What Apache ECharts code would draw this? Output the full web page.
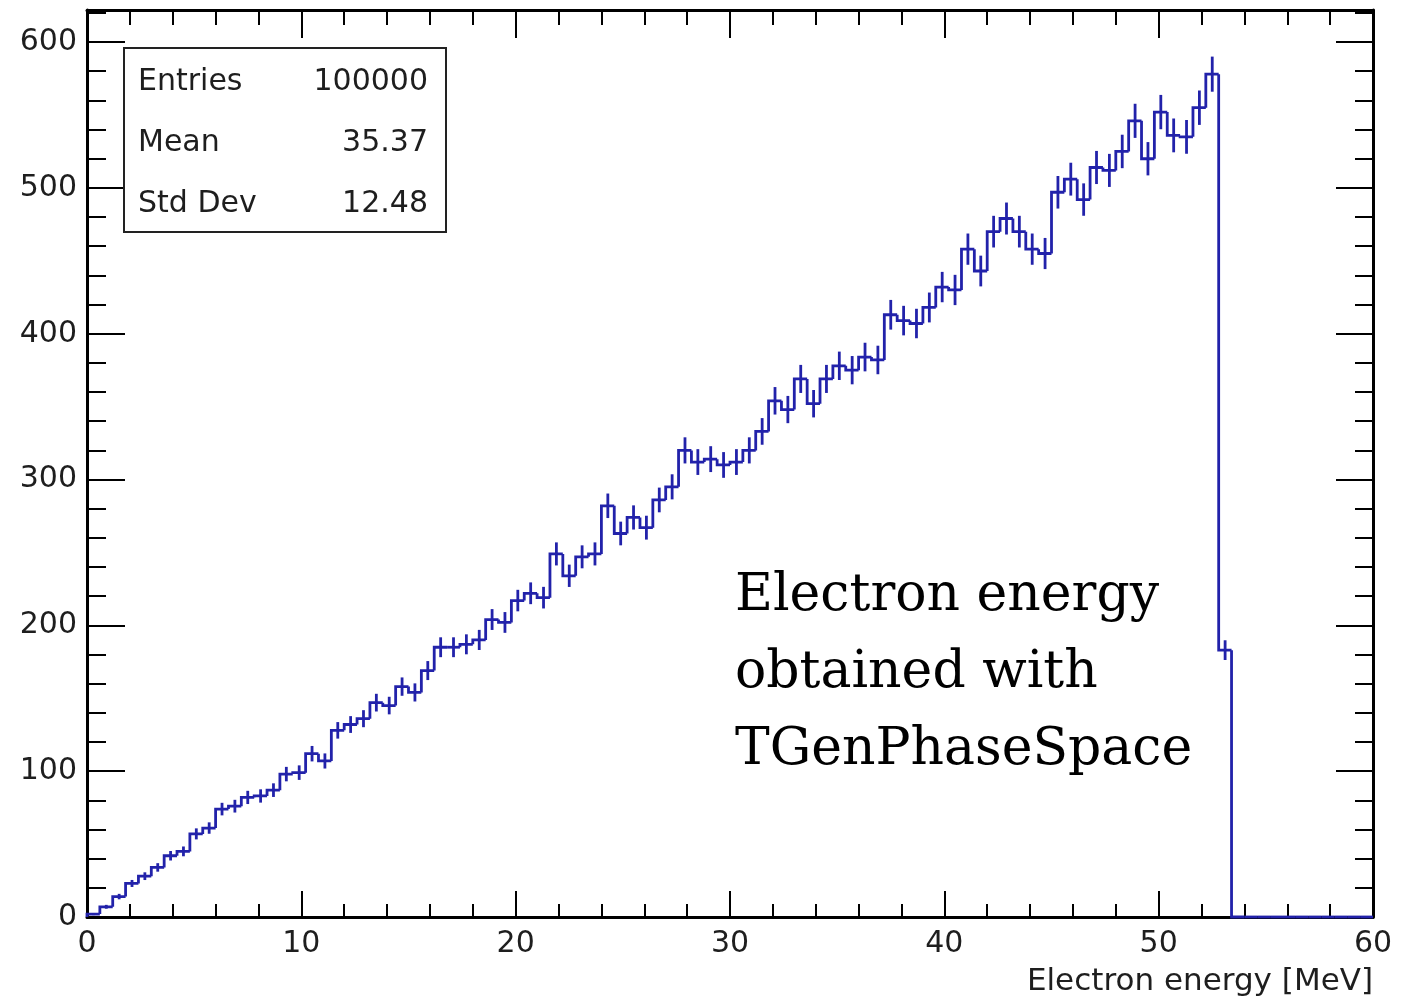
<!DOCTYPE html>
<html>
<head>
<meta charset="utf-8">
<title>Electron energy</title>
<script src="https://cdn.jsdelivr.net/npm/echarts@6/dist/echarts.min.js"></script>
<style>
  html, body { margin: 0; padding: 0; background: #ffffff; }
  #chart { width: 1407px; height: 1002px; }
</style>
</head>
<body>
<div id="chart"></div>
<script>
// Histogram binning: 100 bins of 0.6 MeV between 0 and 60 MeV
const xMin = 0;
const xMax = 60;
const nBins = 100;

// Bin contents (weighted counts)
const counts = [
  2, 7, 14, 23, 28, 34, 42, 45, 57, 61,
  74, 76, 82, 83, 87, 98, 99, 112, 107, 128,
  132, 136, 147, 145, 158, 154, 169, 185, 185, 187,
  190, 204, 202, 217, 222, 219, 249, 234, 247, 249,
  282, 263, 274, 267, 286, 295, 320, 312, 314, 310,
  312, 320, 333, 354, 348, 369, 352, 369, 378, 375,
  384, 382, 413, 409, 407, 418, 432, 430, 458, 443,
  470, 479, 470, 458, 455, 497, 506, 492, 514, 512,
  525, 546, 520, 552, 536, 535, 555, 578, 183, 0,
  0, 0, 0, 0, 0, 0, 0, 0, 0, 0
];

// Statistics box
const statNames = ['Entries', 'Mean', 'Std Dev'];
const statValues = ['100000', '35.37', '12.48'];
const entries = 100000;

// Axis tick labels
const xTickLabels = [0, 10, 20, 30, 40, 50, 60];
const yTickLabels = [0, 100, 200, 300, 400, 500, 600];
const yMax = 622;

const xTitle = 'Electron energy [MeV]';
const noteLines = ['Electron energy', 'obtained with', 'TGenPhaseSpace'];

// Each event carries the same weight, so the bin error is sqrt(w * content)
const binWidth = (xMax - xMin) / nBins;
const total = counts.reduce((s, c) => s + c, 0);
const weight = total / entries;
const bins = counts.map((c, i) => [
  xMin + i * binWidth,
  xMin + (i + 1) * binWidth,
  c,
  i > 0 ? counts[i - 1] : 0,
  c > 0 ? Math.sqrt(weight * c) : 0
]);

const lineColor = '#2222aa';
const fontSans = 'DejaVu Sans';
const labelColor = '#1e1e1e';

function tick(len) {
  return { show: true, inside: true, length: len, lineStyle: { color: '#000', width: 2 } };
}
function majorAxis(pos, extra) {
  return Object.assign({
    type: 'value',
    position: pos,
    splitLine: { show: false },
    axisLine: { show: true, onZero: false, lineStyle: { color: '#000', width: 3 } },
    axisLabel: { show: false },
    minorTick: { show: false }
  }, extra);
}
function minorAxis(pos, extra) {
  return Object.assign({
    type: 'value',
    position: pos,
    splitLine: { show: false },
    axisLine: { show: false, onZero: false },
    axisLabel: { show: false }
  }, extra);
}

const xLabelStyle = {
  show: true, margin: 12, fontSize: 30, fontFamily: fontSans, color: labelColor,
  formatter: v => (xTickLabels.indexOf(v) >= 0 ? String(v) : '')
};
const yLabelStyle = {
  show: true, margin: 10, fontSize: 30, fontFamily: fontSans, color: labelColor,
  formatter: v => (yTickLabels.indexOf(v) >= 0 ? String(v) : '')
};

const graphics = [
  {
    type: 'rect', z: 100,
    shape: { x: 124, y: 48, width: 322, height: 184 },
    style: { fill: '#ffffff', stroke: '#222222', lineWidth: 2 }
  }
];
const statRowsY = [82, 143, 204];
statNames.forEach((name, i) => {
  graphics.push({
    type: 'text', z: 101, x: 138, y: statRowsY[i],
    style: { text: name, font: '30px "DejaVu Sans"', fill: labelColor, align: 'left', verticalAlign: 'middle' }
  });
  graphics.push({
    type: 'text', z: 101, x: 428, y: statRowsY[i],
    style: { text: statValues[i], font: '30px "DejaVu Sans"', fill: labelColor, align: 'right', verticalAlign: 'middle' }
  });
});
graphics.push({
  type: 'text', z: 101, x: 1373, y: 982,
  style: { text: xTitle, font: '31px "DejaVu Sans"', fill: labelColor, align: 'right', verticalAlign: 'middle' }
});
const noteY = [596, 673, 750];
noteLines.forEach((line, i) => {
  graphics.push({
    type: 'text', z: 101, x: 735, y: noteY[i],
    style: { text: line, font: '52px "DejaVu Serif"', fill: '#000000', align: 'left', verticalAlign: 'middle' }
  });
});

const chart = echarts.init(document.getElementById('chart'), null, { renderer: 'canvas' });
chart.setOption({
  animation: false,
  backgroundColor: '#ffffff',
  grid: { left: 87, right: 34, top: 10, bottom: 85, containLabel: false },
  xAxis: [
    majorAxis('bottom', { min: xMin, max: xMax, interval: 10, axisTick: tick(26), axisLabel: xLabelStyle }),
    majorAxis('top', { min: xMin, max: xMax, interval: 10, axisTick: tick(28) }),
    minorAxis('bottom', { min: xMin, max: xMax, interval: 2, axisTick: tick(13) }),
    minorAxis('top', { min: xMin, max: xMax, interval: 2, axisTick: tick(15) })
  ],
  yAxis: [
    majorAxis('left', { min: 0, max: yMax, interval: 100, axisTick: tick(38), axisLabel: yLabelStyle }),
    majorAxis('right', { min: 0, max: yMax, interval: 100, axisTick: tick(37) }),
    minorAxis('left', { min: 0, max: yMax, interval: 20, axisTick: tick(19) }),
    minorAxis('right', { min: 0, max: yMax, interval: 20, axisTick: tick(18) })
  ],
  series: [{
    type: 'custom',
    xAxisIndex: 0,
    yAxisIndex: 0,
    clip: false,
    z: 5,
    encode: { x: [0, 1], y: 2 },
    data: bins,
    renderItem: function (params, api) {
      const lo = api.value(0), hi = api.value(1), v = api.value(2);
      const prev = api.value(3), err = api.value(4);
      const a = api.coord([lo, prev]);
      const b = api.coord([lo, v]);
      const c = api.coord([hi, v]);
      const children = [{
        type: 'polyline',
        shape: { points: [a, b, c] },
        style: { stroke: lineColor, lineWidth: 2.8, fill: null }
      }];
      if (err > 0) {
        const mid = (lo + hi) / 2;
        const t = api.coord([mid, v + err]);
        const u = api.coord([mid, v - err]);
        children.push({
          type: 'line',
          shape: { x1: t[0], y1: t[1], x2: u[0], y2: u[1] },
          style: { stroke: lineColor, lineWidth: 2.8 }
        });
      }
      return { type: 'group', children: children };
    }
  }],
  graphic: graphics
});
</script>
</body>
</html>
